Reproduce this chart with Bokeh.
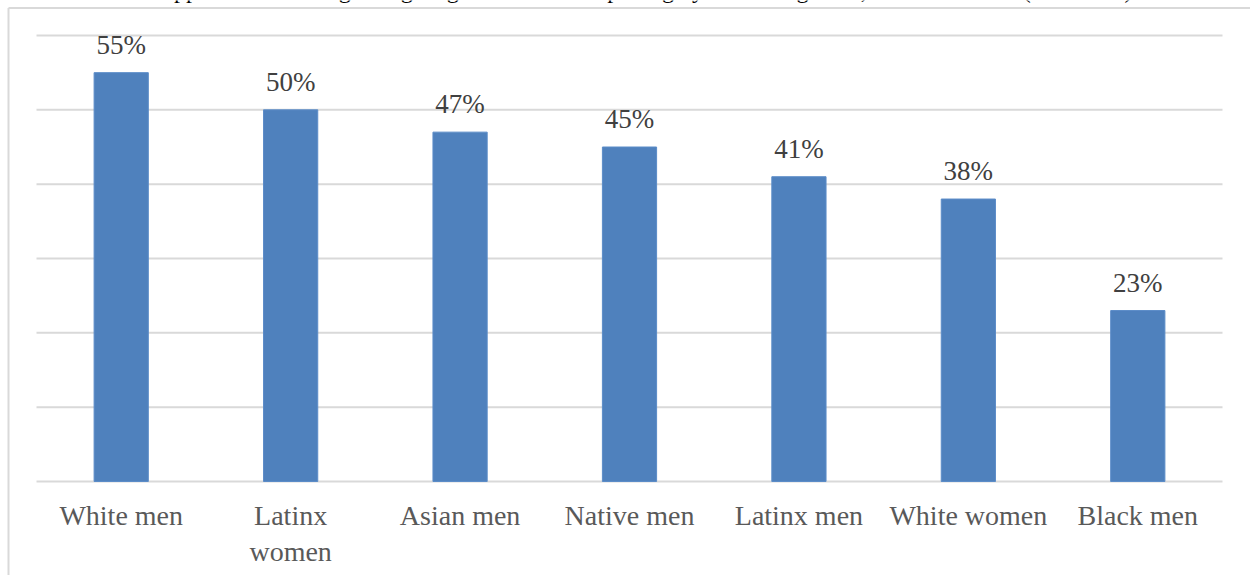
from bokeh.plotting import figure
from bokeh.models import Range1d
from bokeh.core.properties import value
from bokeh.embed import file_html
from bokeh.resources import INLINE

# Completion shares by group (percent)
categories = ["White men", "Latinx women", "Asian men", "Native men",
              "Latinx men", "White women", "Black men"]
shares = [55, 50, 47, 45, 41, 38, 23]
category_labels = ["White men", "Latinx\nwomen", "Asian men", "Native men",
                   "Latinx men", "White women", "Black men"]
grid_ticks = [0, 10, 20, 30, 40, 50, 60]
title_text = ("Percent of apprentices earning living wage based on completing "
              "by race and gender, FY 2008\u20132019 (OAS data)")

SERIF = "Liberation Serif"
W, H = 1250, 575

# Plot-area geometry in pixels: categories span x 36..1222, values 0..60 span y 481..35
PLOT_L, PLOT_R, PLOT_TOP, PLOT_BASE = 36, 1222, 35, 481
n = len(categories)
px_x = (PLOT_R - PLOT_L) / n
px_y = (PLOT_BASE - PLOT_TOP) / 60

x_range = Range1d(-PLOT_L / px_x, (W - PLOT_L) / px_x)
y_range = Range1d(-(H - PLOT_BASE) / px_y, PLOT_BASE / px_y)

p = figure(width=W, height=H, x_range=x_range, y_range=y_range,
           output_backend="svg", toolbar_location=None, min_border=0)
p.outline_line_color = None
p.axis.visible = False
p.grid.visible = False
p.background_fill_color = "white"
p.border_fill_color = "white"

xs = [i + 0.5 for i in range(n)]

# horizontal gridlines across the category band
p.segment(x0=0, x1=n, y0=grid_ticks, y1=grid_ticks,
          line_color="#d9d9d9", line_width=2)

# chart heading, running off the top edge
p.text(x=[(1133 - PLOT_L) / px_x], y=[(PLOT_BASE - 2) / px_y], text=[title_text],
       text_align="right", text_baseline="alphabetic", y_offset=-13,
       text_font=value(SERIF), text_font_size="24px", text_color="black")

# outer chart border (left and top edges)
box_left = (8 - PLOT_L) / px_x
box_top = (PLOT_BASE - 7.5) / px_y
p.segment(x0=[box_left, box_left], y0=[box_top, y_range.start],
          x1=[x_range.end, box_left], y1=[box_top, box_top],
          line_color="#d9d9d9", line_width=2)

p.vbar(x=xs, top=shares, width=0.32,
       fill_color="#4f81bd", line_color="#5b8cc8", line_width=1)

p.text(x=xs, y=shares, text=[f"{v}%" for v in shares],
       text_align="center", text_baseline="alphabetic", y_offset=-28,
       text_font=value(SERIF), text_font_size="27px", text_color="#404040")

p.text(x=xs, y=[0] * n, text=category_labels,
       text_align="center", text_baseline="top", y_offset=18,
       text_line_height=1.17,
       text_font=value(SERIF), text_font_size="28px", text_color="#595959")

open("out.html", "w").write(file_html(p, INLINE))
